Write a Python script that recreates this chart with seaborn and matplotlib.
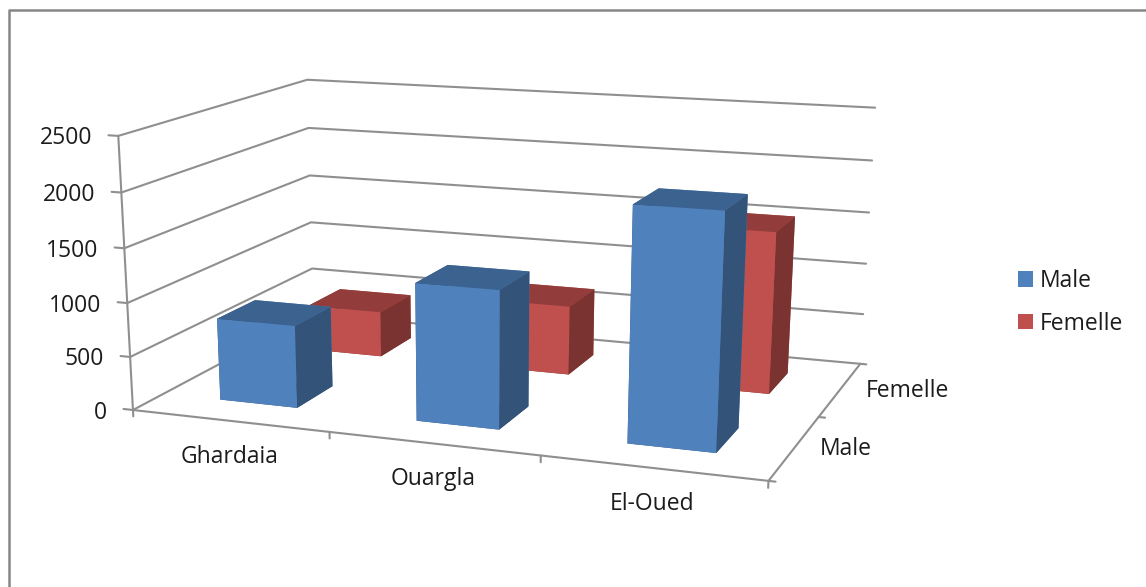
import numpy as np
import matplotlib
matplotlib.use("Agg")
import matplotlib.pyplot as plt
from matplotlib.lines import Line2D
from matplotlib.patches import Patch
from mpl_toolkits.mplot3d import Axes3D, proj3d  # noqa: F401
import seaborn as sns

# Chart data
regions = ["Ghardaia", "Ouargla", "El-Oued"]
series_names = ["Male", "Femelle"]
male_counts = [770, 1260, 2085]
female_counts = [450, 670, 1530]
value_ticks = [0, 500, 1000, 1500, 2000, 2500]

WIDTH, HEIGHT = 1146, 587
GRID = "#8f8f8f"
INK = "#1c1c1c"

sns.set_theme(style="white")
plt.rcParams["font.family"] = ["Open Sans", "DejaVu Sans"]
palette = sns.color_palette(["#4F81BD", "#C0504D"])

# Camera: a pinhole matrix solved from where the box corners of the plot sit on the canvas
box_world = np.array([
    [0, 0, 2500], [0, 0, 0], [0, 2, 2500], [0, 2, 500], [0, 2, 0],
    [3, 2, 2500], [3, 2, 500], [3, 2, 0], [3, 0, 0], [0, 0, 1500], [0, 2, 1500], [3, 2, 1500],
], dtype=float)
box_canvas = np.array([
    [118, 135], [133, 411], [307, 80], [312, 269], [313, 313],
    [875, 108], [864, 315], [860, 363], [768, 481], [125, 248], [310, 176], [869, 212],
], dtype=float)


def solve_camera(world, canvas):
    scale = np.diag([1, 1, 1e-3, 1.0])
    rows, rhs = [], []
    for (x, y, z), (u, v) in zip(world, canvas):
        z = z * 1e-3
        rows.append([x, y, z, 1, 0, 0, 0, 0, -u * x, -u * y, -u * z])
        rhs.append(u)
        rows.append([0, 0, 0, 0, x, y, z, 1, -v * x, -v * y, -v * z])
        rhs.append(v)
    sol = np.linalg.lstsq(np.array(rows), np.array(rhs), rcond=None)[0]
    camera = np.append(sol, 1.0).reshape(3, 4) @ scale
    # depth row: nearer toward the front, the right and the top
    depth = np.array([-1.0, 1.0, -1e-3, 0.5])
    return np.vstack([camera[0], camera[1], depth, camera[2]])


fig = plt.figure(figsize=(WIDTH / 100, HEIGHT / 100), dpi=100, facecolor="white")
ax = fig.add_axes([0, 0, 1, 1], projection="3d", computed_zorder=False, proj_type="ortho")
ax.set_axis_off()
ax.patch.set_visible(False)
camera_matrix = solve_camera(box_world, box_canvas)
ax.get_proj = lambda: camera_matrix
ax.apply_aspect = lambda position=None: None
ax.viewLim.intervalx = (0, WIDTH)
ax.viewLim.intervaly = (HEIGHT, 0)

n_cat = len(regions)
n_ser = len(series_names)
top_value = value_ticks[-1]
line_kw = dict(color=GRID, lw=1.5, zorder=1, solid_capstyle="round")

# Gridlines on the side wall and the back wall, floor outline
for v in value_ticks:
    ax.plot([0, 0, n_cat], [0, n_ser, n_ser], [v, v, v], **line_kw)
ax.plot([0, n_cat, n_cat], [0, 0, n_ser], [0, 0, 0], **line_kw)
ax.plot([0, 0], [0, 0], [0, top_value], **line_kw)

# Tick marks on the three axes
for v in value_ticks:
    ax.plot([-0.05, 0], [0, 0], [v, v], **line_kw)
for i in range(n_cat + 1):
    ax.plot([i, i], [0, 0], [0, -60], **line_kw)
for j in range(n_ser + 1):
    ax.plot([n_cat, n_cat + 0.03], [j, j], [0, 0], **line_kw)

# Bars, back row first so the front row covers it
bar_size = 0.4
for j in reversed(range(n_ser)):
    values = [male_counts, female_counts][j]
    base = np.array(palette[j])
    top = tuple(base * 0.76)
    side = tuple(base * 0.64)
    face = tuple(base)
    for i, v in enumerate(values):
        ax.bar3d(i + 0.5 - bar_size / 2, j + 0.5 - bar_size / 2, 0,
                 bar_size, bar_size, v,
                 color=[side, top, face, face, side, side],
                 shade=False, linewidth=0, zorder=2 + (n_ser - j) * 10 + i)


def axis_label(x, y, z, text, dx, dy, ha):
    """Write a label next to a projected 3D point, offset in canvas pixels."""
    u, v, _ = proj3d.proj_transform(x, y, z, camera_matrix)
    fig.text((u + dx) / WIDTH, 1 - (v + dy) / HEIGHT, text, ha=ha, va="center",
             color=INK, fontsize=16.5)


# Axis labels
for v in value_ticks:
    axis_label(0, 0, v, str(v), -26, 2.5, "right")
for i, name in enumerate(regions):
    axis_label(i + 0.5, 0, 0, name, 0, 36, "center")
for j, name in enumerate(series_names):
    axis_label(n_cat, j + 0.5, 0, name, 25, 2, "left")

# Legend
handles = [Patch(facecolor=palette[k], edgecolor="none", label=series_names[k]) for k in range(n_ser)]
fig.legend(handles=handles, loc="upper left", bbox_to_anchor=(1018 / WIDTH, 1 - 269 / HEIGHT),
           frameon=False, fontsize=16.5, labelcolor=INK, handlelength=0.65, handleheight=0.65,
           handletextpad=0.32, labelspacing=0.82, borderpad=0, borderaxespad=0)

# Chart frame, open on the right and at the bottom
fig.add_artist(Line2D([8.5 / WIDTH, 8.5 / WIDTH, 1], [0, 1 - 9.5 / HEIGHT, 1 - 9.5 / HEIGHT],
                      color="#868686", lw=1.8, transform=fig.transFigure))

fig.savefig("out.png", dpi=100, facecolor="white")
